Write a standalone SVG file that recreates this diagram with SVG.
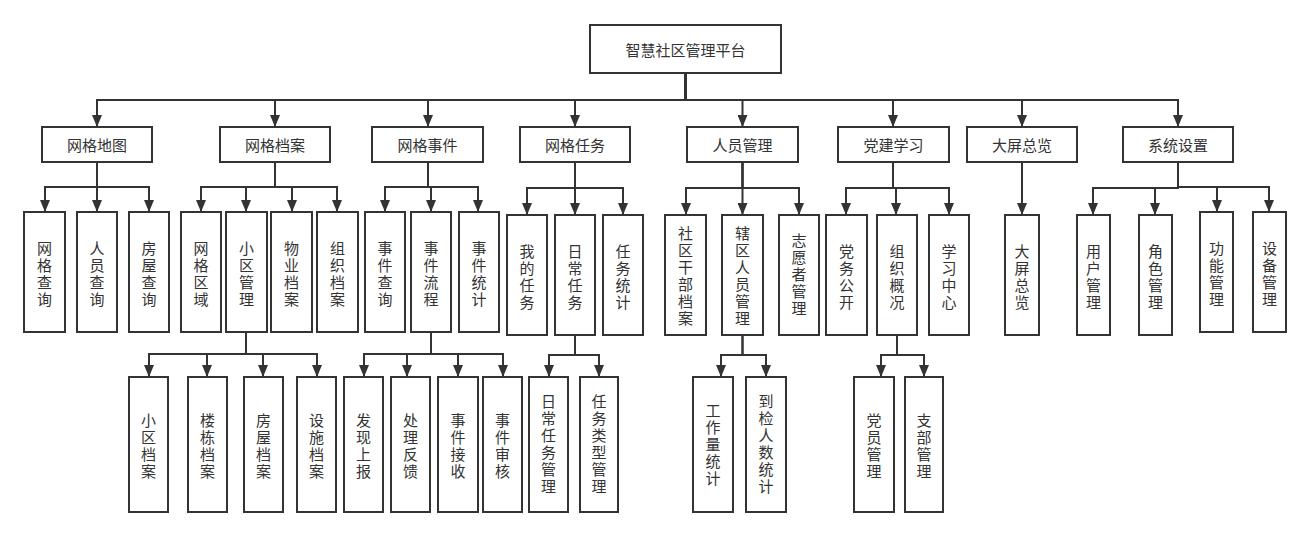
<svg xmlns="http://www.w3.org/2000/svg" width="1311" height="536" viewBox="0 0 1311 536">
<style>
rect{fill:#fff;stroke:#333;stroke-width:2}
text{font-family:"Noto Sans CJK SC","Noto Sans",sans-serif;font-size:15px;fill:#333;text-anchor:middle;dominant-baseline:central}
.c path{fill:none;stroke:#333;stroke-width:2;marker-end:url(#ah)}
</style>
<defs>
<marker id="ah" viewBox="0 0 12 10" refX="12" refY="5" markerWidth="12" markerHeight="10" markerUnits="userSpaceOnUse" orient="auto">
<path d="M0,0 L12,5 L0,10 z" fill="#333"/>
</marker>
</defs>
<rect x="0" y="0" width="1311" height="536" style="stroke:none"/>
<g class="c" id="connectors">
<path d="M685.5,73 V100 H97 V127"/>
<path d="M685.5,73 V100 H275 V127"/>
<path d="M685.5,73 V100 H428 V127"/>
<path d="M685.5,73 V100 H575 V127"/>
<path d="M685.5,73 V100 H742.5 V127"/>
<path d="M685.5,73 V100 H893 V127"/>
<path d="M685.5,73 V100 H1022 V127"/>
<path d="M685.5,73 V100 H1178 V127"/>
<path d="M97,162 V187 H45 V212"/>
<path d="M97,162 V212"/>
<path d="M97,162 V187 H149 V212"/>
<path d="M275,162 V187 H201 V212"/>
<path d="M275,162 V187 H246 V212"/>
<path d="M275,162 V187 H292 V212"/>
<path d="M275,162 V187 H337 V212"/>
<path d="M428,162 V187 H385 V212"/>
<path d="M428,162 V187 H431 V212"/>
<path d="M428,162 V187 H478 V212"/>
<path d="M575,162 V188 H527 V215"/>
<path d="M575,162 V215"/>
<path d="M575,162 V188 H623 V215"/>
<path d="M742.5,162 V188 H686 V215"/>
<path d="M742.5,162 V215"/>
<path d="M742.5,162 V188 H799 V215"/>
<path d="M893,162 V188 H846 V215"/>
<path d="M893,162 V188 H896 V215"/>
<path d="M893,162 V188 H949 V215"/>
<path d="M1022,162 V215"/>
<path d="M1178,162 V188 H1093 V215"/>
<path d="M1178,162 V188 H1155 V215"/>
<path d="M1178,162 V187 H1217 V212"/>
<path d="M1178,162 V187 H1269 V212"/>
<path d="M246,332 V354 H149 V377"/>
<path d="M246,332 V354 H207 V377"/>
<path d="M246,332 V354 H263 V377"/>
<path d="M246,332 V354 H317 V377"/>
<path d="M431,332 V354 H364 V377"/>
<path d="M431,332 V354 H407 V377"/>
<path d="M431,332 V354 H458 V377"/>
<path d="M431,332 V354 H503 V377"/>
<path d="M575,335 V355 H549 V377"/>
<path d="M575,335 V355 H599 V377"/>
<path d="M742.5,335 V355 H721 V377"/>
<path d="M742.5,335 V355 H766 V377"/>
<path d="M897,335 V355 H881 V377"/>
<path d="M897,335 V355 H924 V377"/>
</g>
<g id="root"><rect x="590" y="25" width="191" height="48"/><text x="685.5" y="49">智慧社区管理平台</text></g>
<g id="wgdt"><rect x="42" y="127" width="110" height="35"/><text x="97" y="144.5">网格地图</text></g>
<g id="wgda"><rect x="220" y="127" width="110" height="35"/><text x="275" y="144.5">网格档案</text></g>
<g id="wgsj"><rect x="372" y="127" width="111" height="35"/><text x="427.5" y="144.5">网格事件</text></g>
<g id="wgrw"><rect x="520" y="127" width="110" height="35"/><text x="575" y="144.5">网格任务</text></g>
<g id="rygl"><rect x="687" y="127" width="111" height="35"/><text x="742.5" y="144.5">人员管理</text></g>
<g id="djxx"><rect x="838" y="127" width="111" height="35"/><text x="893.5" y="144.5">党建学习</text></g>
<g id="dpzl"><rect x="967" y="127" width="110" height="35"/><text x="1022" y="144.5">大屏总览</text></g>
<g id="xtsz"><rect x="1123" y="127" width="110" height="35"/><text x="1178" y="144.5">系统设置</text></g>

<g id="wgcx"><rect x="24" y="212" width="41" height="120"/><text x="44.5" y="246.5"><tspan x="44.5" dy="0">网</tspan><tspan x="44.5" dy="17">格</tspan><tspan x="44.5" dy="17">查</tspan><tspan x="44.5" dy="17">询</tspan></text></g>
<g id="rycx"><rect x="77" y="212" width="40" height="120"/><text x="97" y="246.5"><tspan x="97" dy="0">人</tspan><tspan x="97" dy="17">员</tspan><tspan x="97" dy="17">查</tspan><tspan x="97" dy="17">询</tspan></text></g>
<g id="fwcx"><rect x="129" y="212" width="40" height="120"/><text x="149" y="246.5"><tspan x="149" dy="0">房</tspan><tspan x="149" dy="17">屋</tspan><tspan x="149" dy="17">查</tspan><tspan x="149" dy="17">询</tspan></text></g>
<g id="wgqy"><rect x="181" y="212" width="40" height="120"/><text x="201" y="246.5"><tspan x="201" dy="0">网</tspan><tspan x="201" dy="17">格</tspan><tspan x="201" dy="17">区</tspan><tspan x="201" dy="17">域</tspan></text></g>
<g id="xqgl"><rect x="226" y="212" width="41" height="120"/><text x="246.5" y="246.5"><tspan x="246.5" dy="0">小</tspan><tspan x="246.5" dy="17">区</tspan><tspan x="246.5" dy="17">管</tspan><tspan x="246.5" dy="17">理</tspan></text></g>
<g id="wyda"><rect x="271" y="212" width="41" height="120"/><text x="291.5" y="246.5"><tspan x="291.5" dy="0">物</tspan><tspan x="291.5" dy="17">业</tspan><tspan x="291.5" dy="17">档</tspan><tspan x="291.5" dy="17">案</tspan></text></g>
<g id="zzda"><rect x="317" y="212" width="41" height="120"/><text x="337.5" y="246.5"><tspan x="337.5" dy="0">组</tspan><tspan x="337.5" dy="17">织</tspan><tspan x="337.5" dy="17">档</tspan><tspan x="337.5" dy="17">案</tspan></text></g>
<g id="sjcx"><rect x="365" y="212" width="40" height="120"/><text x="385" y="246.5"><tspan x="385" dy="0">事</tspan><tspan x="385" dy="17">件</tspan><tspan x="385" dy="17">查</tspan><tspan x="385" dy="17">询</tspan></text></g>
<g id="sjlc"><rect x="411" y="212" width="40" height="120"/><text x="431" y="246.5"><tspan x="431" dy="0">事</tspan><tspan x="431" dy="17">件</tspan><tspan x="431" dy="17">流</tspan><tspan x="431" dy="17">程</tspan></text></g>
<g id="sjtj"><rect x="459" y="212" width="40" height="120"/><text x="479" y="246.5"><tspan x="479" dy="0">事</tspan><tspan x="479" dy="17">件</tspan><tspan x="479" dy="17">统</tspan><tspan x="479" dy="17">计</tspan></text></g>
<g id="wdrw"><rect x="507" y="215" width="40" height="120"/><text x="527" y="249.5"><tspan x="527" dy="0">我</tspan><tspan x="527" dy="17">的</tspan><tspan x="527" dy="17">任</tspan><tspan x="527" dy="17">务</tspan></text></g>
<g id="rcrw"><rect x="555" y="215" width="40" height="120"/><text x="575" y="249.5"><tspan x="575" dy="0">日</tspan><tspan x="575" dy="17">常</tspan><tspan x="575" dy="17">任</tspan><tspan x="575" dy="17">务</tspan></text></g>
<g id="rwtj"><rect x="603" y="215" width="40" height="120"/><text x="623" y="249.5"><tspan x="623" dy="0">任</tspan><tspan x="623" dy="17">务</tspan><tspan x="623" dy="17">统</tspan><tspan x="623" dy="17">计</tspan></text></g>
<g id="sqgbda"><rect x="665" y="215" width="41" height="120"/><text x="685.5" y="232"><tspan x="685.5" dy="0">社</tspan><tspan x="685.5" dy="17">区</tspan><tspan x="685.5" dy="17">干</tspan><tspan x="685.5" dy="17">部</tspan><tspan x="685.5" dy="17">档</tspan><tspan x="685.5" dy="17">案</tspan></text></g>
<g id="xqrygl"><rect x="722" y="215" width="41" height="120"/><text x="742.5" y="232"><tspan x="742.5" dy="0">辖</tspan><tspan x="742.5" dy="17">区</tspan><tspan x="742.5" dy="17">人</tspan><tspan x="742.5" dy="17">员</tspan><tspan x="742.5" dy="17">管</tspan><tspan x="742.5" dy="17">理</tspan></text></g>
<g id="zyzgl"><rect x="779" y="215" width="40" height="120"/><text x="799" y="239"><tspan x="799" dy="0">志</tspan><tspan x="799" dy="17">愿</tspan><tspan x="799" dy="17">者</tspan><tspan x="799" dy="17">管</tspan><tspan x="799" dy="17">理</tspan></text></g>
<g id="dwgk"><rect x="826" y="215" width="41" height="120"/><text x="846.5" y="249.5"><tspan x="846.5" dy="0">党</tspan><tspan x="846.5" dy="17">务</tspan><tspan x="846.5" dy="17">公</tspan><tspan x="846.5" dy="17">开</tspan></text></g>
<g id="zzgk"><rect x="877" y="215" width="40" height="120"/><text x="897" y="249.5"><tspan x="897" dy="0">组</tspan><tspan x="897" dy="17">织</tspan><tspan x="897" dy="17">概</tspan><tspan x="897" dy="17">况</tspan></text></g>
<g id="xxzx"><rect x="929" y="215" width="40" height="120"/><text x="949" y="249.5"><tspan x="949" dy="0">学</tspan><tspan x="949" dy="17">习</tspan><tspan x="949" dy="17">中</tspan><tspan x="949" dy="17">心</tspan></text></g>
<g id="dpzl2"><rect x="1005" y="215" width="34" height="120"/><text x="1022" y="249.5"><tspan x="1022" dy="0">大</tspan><tspan x="1022" dy="17">屏</tspan><tspan x="1022" dy="17">总</tspan><tspan x="1022" dy="17">览</tspan></text></g>
<g id="yhgl"><rect x="1077" y="215" width="33" height="120"/><text x="1093.5" y="249.5"><tspan x="1093.5" dy="0">用</tspan><tspan x="1093.5" dy="17">户</tspan><tspan x="1093.5" dy="17">管</tspan><tspan x="1093.5" dy="17">理</tspan></text></g>
<g id="jsgl"><rect x="1139" y="215" width="33" height="120"/><text x="1155.5" y="249.5"><tspan x="1155.5" dy="0">角</tspan><tspan x="1155.5" dy="17">色</tspan><tspan x="1155.5" dy="17">管</tspan><tspan x="1155.5" dy="17">理</tspan></text></g>
<g id="gngl"><rect x="1200" y="212" width="33" height="120"/><text x="1216.5" y="246.5"><tspan x="1216.5" dy="0">功</tspan><tspan x="1216.5" dy="17">能</tspan><tspan x="1216.5" dy="17">管</tspan><tspan x="1216.5" dy="17">理</tspan></text></g>
<g id="sbgl"><rect x="1253" y="212" width="33" height="120"/><text x="1269.5" y="246.5"><tspan x="1269.5" dy="0">设</tspan><tspan x="1269.5" dy="17">备</tspan><tspan x="1269.5" dy="17">管</tspan><tspan x="1269.5" dy="17">理</tspan></text></g>

<g id="xqda"><rect x="129" y="377" width="39" height="135"/><text x="148.5" y="419"><tspan x="148.5" dy="0">小</tspan><tspan x="148.5" dy="17">区</tspan><tspan x="148.5" dy="17">档</tspan><tspan x="148.5" dy="17">案</tspan></text></g>
<g id="ldda"><rect x="188" y="377" width="39" height="135"/><text x="207.5" y="419"><tspan x="207.5" dy="0">楼</tspan><tspan x="207.5" dy="17">栋</tspan><tspan x="207.5" dy="17">档</tspan><tspan x="207.5" dy="17">案</tspan></text></g>
<g id="fwda"><rect x="244" y="377" width="39" height="135"/><text x="263.5" y="419"><tspan x="263.5" dy="0">房</tspan><tspan x="263.5" dy="17">屋</tspan><tspan x="263.5" dy="17">档</tspan><tspan x="263.5" dy="17">案</tspan></text></g>
<g id="ssda"><rect x="297" y="377" width="39" height="135"/><text x="316.5" y="419"><tspan x="316.5" dy="0">设</tspan><tspan x="316.5" dy="17">施</tspan><tspan x="316.5" dy="17">档</tspan><tspan x="316.5" dy="17">案</tspan></text></g>
<g id="fxsb"><rect x="344" y="377" width="39" height="135"/><text x="363.5" y="419"><tspan x="363.5" dy="0">发</tspan><tspan x="363.5" dy="17">现</tspan><tspan x="363.5" dy="17">上</tspan><tspan x="363.5" dy="17">报</tspan></text></g>
<g id="clfk"><rect x="391" y="377" width="39" height="135"/><text x="410.5" y="419"><tspan x="410.5" dy="0">处</tspan><tspan x="410.5" dy="17">理</tspan><tspan x="410.5" dy="17">反</tspan><tspan x="410.5" dy="17">馈</tspan></text></g>
<g id="sjjs"><rect x="438" y="377" width="40" height="135"/><text x="458" y="419"><tspan x="458" dy="0">事</tspan><tspan x="458" dy="17">件</tspan><tspan x="458" dy="17">接</tspan><tspan x="458" dy="17">收</tspan></text></g>
<g id="sjsh"><rect x="483" y="377" width="39" height="135"/><text x="502.5" y="419"><tspan x="502.5" dy="0">事</tspan><tspan x="502.5" dy="17">件</tspan><tspan x="502.5" dy="17">审</tspan><tspan x="502.5" dy="17">核</tspan></text></g>
<g id="rcrwgl"><rect x="529" y="377" width="39" height="135"/><text x="548.5" y="400"><tspan x="548.5" dy="0">日</tspan><tspan x="548.5" dy="17">常</tspan><tspan x="548.5" dy="17">任</tspan><tspan x="548.5" dy="17">务</tspan><tspan x="548.5" dy="17">管</tspan><tspan x="548.5" dy="17">理</tspan></text></g>
<g id="rwlxgl"><rect x="580" y="377" width="38" height="135"/><text x="599" y="400"><tspan x="599" dy="0">任</tspan><tspan x="599" dy="17">务</tspan><tspan x="599" dy="17">类</tspan><tspan x="599" dy="17">型</tspan><tspan x="599" dy="17">管</tspan><tspan x="599" dy="17">理</tspan></text></g>
<g id="gzltj"><rect x="693" y="377" width="40" height="135"/><text x="713" y="408.5"><tspan x="713" dy="0">工</tspan><tspan x="713" dy="17">作</tspan><tspan x="713" dy="17">量</tspan><tspan x="713" dy="17">统</tspan><tspan x="713" dy="17">计</tspan></text></g>
<g id="djrstj"><rect x="746" y="377" width="40" height="135"/><text x="766" y="400"><tspan x="766" dy="0">到</tspan><tspan x="766" dy="17">检</tspan><tspan x="766" dy="17">人</tspan><tspan x="766" dy="17">数</tspan><tspan x="766" dy="17">统</tspan><tspan x="766" dy="17">计</tspan></text></g>
<g id="dygl"><rect x="854" y="377" width="40" height="135"/><text x="874" y="419"><tspan x="874" dy="0">党</tspan><tspan x="874" dy="17">员</tspan><tspan x="874" dy="17">管</tspan><tspan x="874" dy="17">理</tspan></text></g>
<g id="zbgl"><rect x="905" y="377" width="38" height="135"/><text x="924" y="419"><tspan x="924" dy="0">支</tspan><tspan x="924" dy="17">部</tspan><tspan x="924" dy="17">管</tspan><tspan x="924" dy="17">理</tspan></text></g>
</svg>
